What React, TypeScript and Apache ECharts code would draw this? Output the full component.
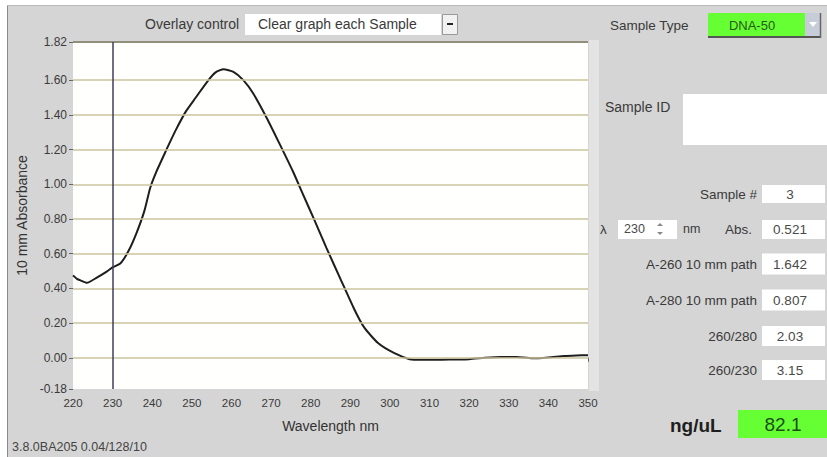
import React, { useEffect, useRef } from "react";
import * as echarts from "echarts";

// ---- data ----
const wavelengths = [220, 221, 222, 223.5, 226, 228.5, 230, 232, 234, 236, 238, 239.5, 241, 243, 244, 246, 248.5, 251, 254, 256, 258, 260.5, 263, 265.5, 269, 272, 275.5, 278, 281, 284, 287.5, 291, 293.5, 297, 301, 305, 308, 312, 316, 320, 324, 328, 332, 336, 340, 344, 347, 350];
const absorbance = [0.475, 0.455, 0.445, 0.432, 0.462, 0.497, 0.521, 0.545, 0.615, 0.717, 0.845, 0.98, 1.07, 1.17, 1.22, 1.315, 1.42, 1.5, 1.595, 1.645, 1.663, 1.648, 1.6, 1.523, 1.378, 1.24, 1.075, 0.945, 0.79, 0.632, 0.455, 0.28, 0.175, 0.085, 0.028, -0.008, -0.012, -0.012, -0.01, -0.008, 0.0, 0.005, 0.004, -0.003, 0.002, 0.01, 0.013, 0.015];
const yTickValues = [-0.18, 0, 0.2, 0.4, 0.6, 0.8, 1.0, 1.2, 1.4, 1.6, 1.82];
const gridLineValues = [0, 0.2, 0.4, 0.6, 0.8, 1.0, 1.2, 1.4, 1.6];
const yMin = -0.18;
const yMax = 1.82;
const xMin = 220;
const xMax = 350;
const cursorWavelength = 230;

const sampleType = "DNA-50";
const overlayChoice = "Clear graph each Sample";
const sampleNumber = "3";
const absAtCursor = "0.521";
const readoutLabels = ["A-260 10 mm path", "A-280 10 mm path", "260/280", "260/230"];
const readoutValues = ["1.642", "0.807", "2.03", "3.15"];
const concentration = "82.1";
const footerText = "3.8.0BA205 0.04/128/10";

const FONT = "'Liberation Sans', Arial, sans-serif";

function txt(x: number, y: number, text: string, opts: any = {}) {
  return {
    type: "text",
    x,
    y,
    silent: true,
    z: 10,
    style: {
      text,
      fontFamily: FONT,
      fontSize: opts.size || 13.5,
      fontWeight: opts.weight || "normal",
      fill: opts.fill || "#3a3a3a",
      textAlign: opts.align || "left",
      textVerticalAlign: "middle",
    },
  };
}
function box(x: number, y: number, w: number, h: number, fill: string, stroke?: string) {
  return {
    type: "rect",
    silent: true,
    z: 5,
    shape: { x, y, width: w, height: h },
    style: { fill, stroke: stroke || null, lineWidth: 1 },
  };
}

export default function App() {
  const ref = useRef<HTMLDivElement>(null);
  useEffect(() => {
    document.body.style.margin = "0";
    const chart = echarts.init(ref.current!, null, { renderer: "svg" });

    const rowYs = [264, 300, 336, 370];
    const rowHs = [21, 21, 20, 20];

    const graphics: any[] = [
      { type: "rect", silent: true, z: 0, shape: { x: 7, y: 5, width: 820, height: 452 }, style: { fill: "#d5d5d5" } },
      { type: "line", silent: true, z: 1, shape: { x1: 7.5, y1: 5, x2: 7.5, y2: 457 }, style: { stroke: "#8a8a8a", lineWidth: 1 } },
      { type: "line", silent: true, z: 1, shape: { x1: 7, y1: 5.5, x2: 827, y2: 5.5 }, style: { stroke: "#b8b8b8", lineWidth: 1 } },
      box(589, 40, 10, 351, "#e3e3e3"),
      // overlay control
      txt(145, 24, "Overlay control", { size: 14 }),
      box(245, 14, 196, 21, "#ffffff"),
      txt(258, 24, overlayChoice, { size: 14 }),
      box(442.5, 14.5, 15, 20, "#f2f2f2", "#9a9a9a"),
      box(447, 23, 6, 2, "#222222"),
      // sample type
      txt(610, 25, "Sample Type"),
      box(708, 13, 97, 24, "#66ff33"),
      { type: "line", silent: true, z: 6, shape: { x1: 708, y1: 37, x2: 820, y2: 37 }, style: { stroke: "#555555", lineWidth: 2 } },
      txt(752, 25, sampleType, { align: "center", fill: "#2a5a1a", size: 13 }),
      box(805, 13, 16, 24, "#c7cdd8"),
      { type: "line", silent: true, z: 6, shape: { x1: 820.5, y1: 13, x2: 820.5, y2: 38 }, style: { stroke: "#666", lineWidth: 1.5 } },
      { type: "polygon", silent: true, z: 7, shape: { points: [[809, 22], [817, 22], [813, 27]] }, style: { fill: "#ffffff" } },
      // sample id
      txt(605, 107, "Sample ID", { size: 14 }),
      box(683, 94, 144, 51, "#ffffff"),
      // sample #
      txt(757, 194, "Sample #", { align: "right" }),
      box(762, 185, 63, 18, "#ffffff"),
      txt(790, 194, sampleNumber, { align: "center", fill: "#4a4a4a" }),
      // lambda row
      txt(600, 229, "λ"),
      box(618, 220, 59, 19, "#ffffff"),
      txt(624, 229, String(cursorWavelength), { fill: "#4a4a4a", size: 12.5 }),
      { type: "polygon", silent: true, z: 7, shape: { points: [[657, 226], [663, 226], [660, 223]] }, style: { fill: "#888" } },
      { type: "polygon", silent: true, z: 7, shape: { points: [[657, 232], [663, 232], [660, 235]] }, style: { fill: "#888" } },
      txt(683, 229, "nm", { size: 12.5 }),
      txt(752, 229, "Abs.", { align: "right" }),
      box(762, 220, 63, 19, "#ffffff"),
      txt(790, 229, absAtCursor, { align: "center", fill: "#4a4a4a" }),
      // concentration
      txt(670, 425, "ng/uL", { size: 19, weight: "bold", fill: "#1e1e1e" }),
      box(738, 410, 89, 28, "#66ff33"),
      txt(783, 424, concentration, { size: 19, align: "center", fill: "#1b4d14" }),
      // footer
      txt(12, 447, footerText, { size: 12.5, fill: "#444" }),
    ];
    readoutLabels.forEach((lab, i) => {
      const cy = rowYs[i];
      const h = rowHs[i];
      graphics.push(txt(757, cy, lab, { align: "right" }));
      graphics.push(box(762, cy - h / 2, 63, h, "#ffffff"));
      graphics.push(txt(790, cy, readoutValues[i], { align: "center", fill: "#4a4a4a" }));
    });

    chart.setOption({
      animation: false,
      backgroundColor: "#ffffff",
      textStyle: { fontFamily: FONT },
      grid: { left: 73, right: 239, top: 42, bottom: 68, show: true, backgroundColor: "#fffffd", borderWidth: 0, z: 2 },
      graphic: { elements: graphics },
      xAxis: {
        type: "value",
        min: xMin,
        max: xMax,
        interval: 10,
        name: "Wavelength nm",
        nameLocation: "middle",
        nameGap: 30,
        nameTextStyle: { fontSize: 14, color: "#333", fontFamily: FONT },
        axisLine: { show: false },
        axisTick: { show: true, length: 4, lineStyle: { color: "#666" } },
        axisLabel: { fontSize: 11.5, color: "#3a3a3a", margin: 8, fontFamily: FONT },
        splitLine: { show: false },
      },
      yAxis: {
        type: "value",
        min: yMin,
        max: yMax,
        name: "10 mm Absorbance",
        nameLocation: "middle",
        nameRotate: 90,
        nameGap: 44,
        nameTextStyle: { fontSize: 14, color: "#333", fontFamily: FONT },
        axisLine: { show: false },
        axisTick: { show: true, length: 4, customValues: yTickValues, lineStyle: { color: "#666" } },
        axisLabel: {
          fontSize: 12,
          color: "#3a3a3a",
          margin: 6,
          fontFamily: FONT,
          customValues: yTickValues,
          formatter: (v: number) => v.toFixed(2),
        },
        splitLine: { show: false },
      },
      series: [
        {
          type: "line",
          data: [],
          z: 3,
          silent: true,
          markLine: {
            silent: true,
            symbol: ["none", "none"],
            label: { show: false },
            lineStyle: { color: "#cbc49c", width: 1.5, type: "solid" },
            data: [
              ...gridLineValues.map((v) => ({ yAxis: v })),
              { yAxis: yMax, lineStyle: { color: "#8f8f7c", width: 2, type: "solid" } },
              { xAxis: cursorWavelength, lineStyle: { color: "#3e3e5c", width: 1.5, type: "solid" } },
            ],
          },
        },
        {
          type: "line",
          z: 4,
          silent: true,
          showSymbol: false,
          smooth: 0.2,
          lineStyle: { color: "#1e1e1e", width: 2 },
          data: wavelengths.map((w, i) => [w, absorbance[i]]),
        },
      ],
    });
    return () => chart.dispose();
  }, []);
  return <div ref={ref} style={{ width: 827, height: 457 }} />;
}
